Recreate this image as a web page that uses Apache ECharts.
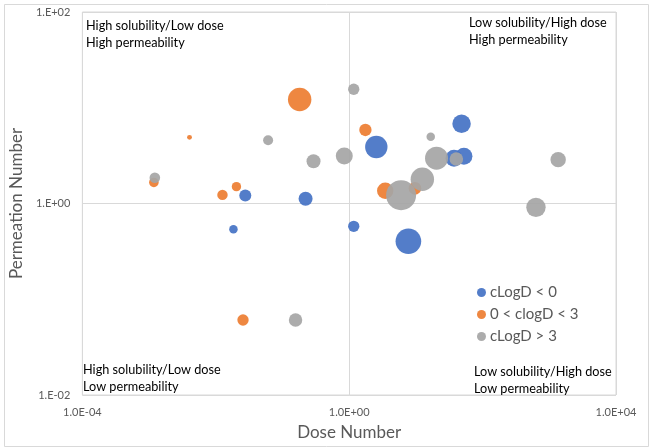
<!DOCTYPE html>
<html>
<head>
<meta charset="utf-8">
<script src="https://cdn.jsdelivr.net/npm/echarts@6/dist/echarts.min.js"></script>
<style>html,body{margin:0;padding:0;background:#fff}#c{width:649px;height:447px}</style>
</head>
<body>
<div id="c"></div>
<script>
// ---- data ----
var seriesNames = ['cLogD < 0', '0 < clogD < 3', 'cLogD > 3'];
var blueDose = [0.0184, 0.0277, 0.222, 1.17, 2.55, 7.72, 48.4, 37.3, 52.5];
var bluePerm = [0.538, 1.21, 1.12, 0.578, 3.89, 0.403, 6.81, 2.97, 3.11];
var blueSize = [18, 36, 49, 32, 125, 164, 85, 72, 72];

var orangeDose = [0.181, 0.00404, 0.00118, 0.0204, 0.0126, 1.75, 3.47, 9.68, 0.0256];
var orangePerm = [12.2, 4.91, 1.66, 1.50, 1.23, 5.86, 1.36, 1.44, 0.0607];
var orangeSize = [137, 6, 23, 22, 27, 38, 67, 40, 32];

var grayDose = [1.17, 0.0609, 0.292, 0.844, 0.00122, 16.7, 40.4, 20.4, 12.5, 6.0, 1358, 631, 0.157];
var grayPerm = [15.6, 4.57, 2.76, 3.13, 1.86, 4.99, 2.92, 2.97, 1.79, 1.22, 2.87, 0.912, 0.0607];
var graySize = [32, 25, 49, 72, 28, 18, 46, 132, 137, 225, 59, 94, 45];

var xTicks = [1e-4, 1, 1e4];
var xTickLabels = ['1.0E-04', '1.0E+00', '1.0E+04'];
var yTicks = [1e-2, 1, 1e2];
var yTickLabels = ['1.E-02', '1.E+00', '1.E+02'];

var quadrantTexts = [
  'High solubility/Low dose\nHigh permeability',
  'Low solubility/High dose\nHigh permeability',
  'High solubility/Low dose\nLow permeability',
  'Low solubility/High dose\nLow permeability'
];

// ---- build ----
function zip(a, b, s) { return a.map(function (v, i) { return [v, b[i], s[i]]; }); }
function labelFor(ticks, labels) {
  return function (v) {
    for (var i = 0; i < ticks.length; i++) {
      if (Math.abs(Math.log10(v) - Math.log10(ticks[i])) < 1e-6) return labels[i];
    }
    return '';
  };
}
var FONT = 'Lato';
var colors = ['#4472C4', '#ED7D31', '#A5A5A5'];
function bubble(name, data, color) {
  return {
    name: name, type: 'scatter', data: data,
    symbolSize: function (d) { return 2 * Math.sqrt(d[2]); },
    itemStyle: { color: color, opacity: 0.92 },
    emphasis: { disabled: true }
  };
}

var chart = echarts.init(document.getElementById('c'), null, { renderer: 'canvas' });
chart.setOption({
  animation: false,
  backgroundColor: '#fff',
  textStyle: { fontFamily: FONT },
  grid: { left: 78, right: 33, top: 12, bottom: 52, show: true, borderColor: '#d9d9d9', borderWidth: 1 },
  xAxis: {
    type: 'log', logBase: 10, min: 1e-4, max: 1e4, interval: 4,
    name: 'Dose Number', nameLocation: 'middle', nameGap: 29,
    nameTextStyle: { color: '#595959', fontSize: 17, fontFamily: FONT },
    axisLine: { show: false }, axisTick: { show: false },
    axisLabel: { color: '#595959', fontSize: 11, margin: 12, fontFamily: FONT, formatter: labelFor(xTicks, xTickLabels) },
    splitLine: { show: true, lineStyle: { color: '#d9d9d9', width: 1 } }
  },
  yAxis: {
    type: 'log', logBase: 10, min: 1e-2, max: 1e2, interval: 2,
    name: 'Permeation Number', nameLocation: 'middle', nameGap: 52,
    nameTextStyle: { color: '#595959', fontSize: 17, fontFamily: FONT },
    axisLine: { show: false }, axisTick: { show: false },
    axisLabel: { color: '#595959', fontSize: 11, margin: 12, fontFamily: FONT, formatter: labelFor(yTicks, yTickLabels) },
    splitLine: { show: true, lineStyle: { color: '#d9d9d9', width: 1 } }
  },
  legend: {
    orient: 'vertical', left: 472, top: 280, itemGap: 7, itemWidth: 9, itemHeight: 9,
    icon: 'circle', data: seriesNames,
    textStyle: { color: '#595959', fontSize: 15, fontFamily: FONT, padding: [0, 0, 0, -1] }
  },
  graphic: [
    { type: 'rect', left: 2, top: 2, shape: { width: 644, height: 442 }, style: { fill: 'none', stroke: '#d9d9d9', lineWidth: 1 }, silent: true },
    { type: 'text', left: 86, top: 17, style: { text: quadrantTexts[0], fill: '#000', font: '12.7px ' + FONT, lineHeight: 17 } },
    { type: 'text', left: 469, top: 14, style: { text: quadrantTexts[1], fill: '#000', font: '12.7px ' + FONT, lineHeight: 17 } },
    { type: 'text', left: 83, top: 361, style: { text: quadrantTexts[2], fill: '#000', font: '12.7px ' + FONT, lineHeight: 17 } },
    { type: 'text', left: 474, top: 363, style: { text: quadrantTexts[3], fill: '#000', font: '12.7px ' + FONT, lineHeight: 17 } }
  ],
  series: [
    bubble(seriesNames[0], zip(blueDose, bluePerm, blueSize), colors[0]),
    bubble(seriesNames[1], zip(orangeDose, orangePerm, orangeSize), colors[1]),
    bubble(seriesNames[2], zip(grayDose, grayPerm, graySize), colors[2])
  ]
});
</script>
</body>
</html>
